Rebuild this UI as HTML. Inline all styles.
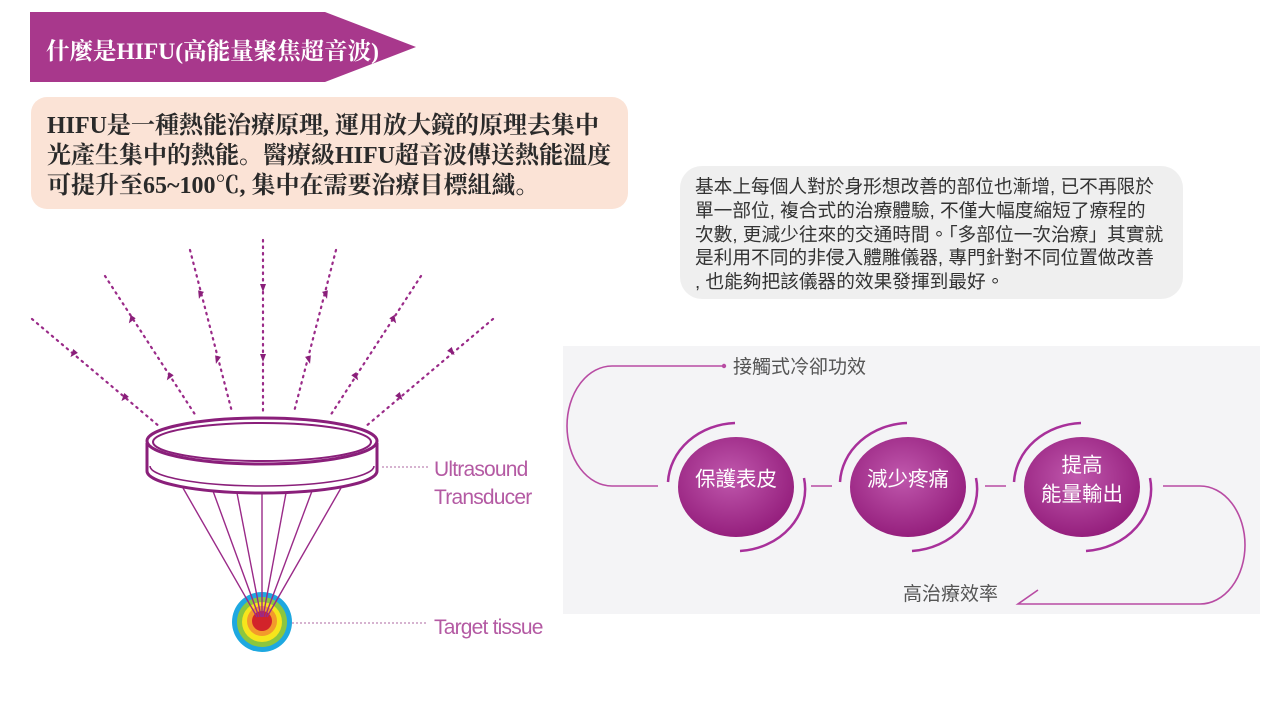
<!DOCTYPE html>
<html><head><meta charset="utf-8"><style>
body{margin:0;width:1280px;height:720px;background:#fff;position:relative;overflow:hidden;font-family:"Liberation Serif","Noto Serif CJK SC","Noto Sans CJK TC",serif}
.title{position:absolute;left:30px;top:12px;width:386px;height:70px;background:#a8388c;clip-path:polygon(0 0,295px 0,386px 35px,295px 70px,0 70px)}
.title span{position:absolute;left:16px;top:20px;color:#fff;font-size:23.5px;font-weight:bold;white-space:nowrap}
.peach{position:absolute;left:31px;top:97px;width:597px;height:112px;background:#fbe3d6;border-radius:16px}
.peach div{position:absolute;left:16px;top:14px;font-size:24px;font-weight:bold;line-height:30px;color:#2a2a2a;white-space:nowrap}
.gray{position:absolute;left:680px;top:166px;width:503px;height:133px;background:#efefef;border-radius:22px}
.gray div{position:absolute;left:15px;top:9px;font-family:"Liberation Sans","Noto Sans CJK TC",sans-serif;font-size:18.7px;line-height:23.8px;color:#333;white-space:nowrap}
svg{position:absolute;left:0;top:0}
</style></head><body>
<div class="title"><span>什麼是HIFU(高能量聚焦超音波)</span></div>
<div class="peach"><div>HIFU是一種熱能治療原理, 運用放大鏡的原理去集中<br>光產生集中的熱能。醫療級HIFU超音波傳送熱能溫度<br>可提升至65~100℃, 集中在需要治療目標組織。</div></div>
<div class="gray"><div>基本上每個人對於身形想改善的部位也漸增, 已不再限於<br>單一部位, 複合式的治療體驗, 不僅大幅度縮短了療程的<br>次數, 更減少往來的交通時間。「多部位一次治療」其實就<br>是利用不同的非侵入體雕儀器, 專門針對不同位置做改善<br>, 也能夠把該儀器的效果發揮到最好。</div></div>
<svg width="1280" height="720" viewBox="0 0 1280 720">
<defs>
<radialGradient id="cg" cx="45%" cy="40%" r="60%"><stop offset="0" stop-color="#c058ad"/><stop offset="1" stop-color="#951f7d"/></radialGradient>
</defs>
<g stroke="#9a2a88" stroke-width="2.2" stroke-dasharray="1.5 5" stroke-linecap="round" fill="none">
<line x1="32" y1="319" x2="160" y2="427"/>
<line x1="105" y1="276" x2="196" y2="416"/>
<line x1="190" y1="250" x2="232" y2="412"/>
<line x1="263" y1="240" x2="263" y2="412"/>
<line x1="336" y1="250" x2="294" y2="412"/>
<line x1="421" y1="276" x2="330" y2="416"/>
<line x1="493" y1="319" x2="365" y2="427"/>
</g>
<g fill="#8a1f7a">
<g transform="translate(73,354) rotate(130)"><polygon points="-4,-3 4,0 -4,3"/></g>
<g transform="translate(124,398) rotate(130)"><polygon points="-4,-3 4,0 -4,3"/></g>
<g transform="translate(131,320) rotate(123)"><polygon points="-4,-3 4,0 -4,3"/></g>
<g transform="translate(169,377) rotate(123)"><polygon points="-4,-3 4,0 -4,3"/></g>
<g transform="translate(200,295) rotate(105)"><polygon points="-4,-3 4,0 -4,3"/></g>
<g transform="translate(217,360) rotate(105)"><polygon points="-4,-3 4,0 -4,3"/></g>
<g transform="translate(263,288) rotate(90)"><polygon points="-4,-3 4,0 -4,3"/></g>
<g transform="translate(263,358) rotate(90)"><polygon points="-4,-3 4,0 -4,3"/></g>
<g transform="translate(326,295) rotate(75)"><polygon points="-4,-3 4,0 -4,3"/></g>
<g transform="translate(309,360) rotate(75)"><polygon points="-4,-3 4,0 -4,3"/></g>
<g transform="translate(394,320) rotate(57)"><polygon points="-4,-3 4,0 -4,3"/></g>
<g transform="translate(356,377) rotate(57)"><polygon points="-4,-3 4,0 -4,3"/></g>
<g transform="translate(452,352) rotate(50)"><polygon points="-4,-3 4,0 -4,3"/></g>
<g transform="translate(400,397) rotate(50)"><polygon points="-4,-3 4,0 -4,3"/></g>
</g>
<circle cx="262" cy="622" r="30" fill="#1ea8e0"/>
<circle cx="262" cy="622" r="25" fill="#8cc63e"/>
<circle cx="262" cy="622" r="20" fill="#f6e51c"/>
<circle cx="262" cy="621" r="15" fill="#f39a2b"/>
<circle cx="262" cy="621" r="10" fill="#d2232a"/>
<g stroke="#9a2a88" stroke-width="1.4">
<line x1="183" y1="488" x2="257" y2="617"/><line x1="213" y1="491" x2="259" y2="617"/><line x1="237" y1="493" x2="261" y2="617"/><line x1="262" y1="493" x2="262" y2="617"/><line x1="286" y1="493" x2="263" y2="617"/><line x1="312" y1="491" x2="265" y2="617"/><line x1="341" y1="488" x2="267" y2="617"/>
</g>
<g stroke="#8a1f7a" fill="none" stroke-width="3">
<path d="M147 443 L147 471 A115 22 0 0 0 377 471 L377 443" fill="#fff"/>
<path d="M150 466 A112 20 0 0 0 374 466" stroke-width="1.5"/>
<ellipse cx="262" cy="441" rx="115" ry="23" fill="#fff"/>
<ellipse cx="262" cy="442" rx="109" ry="19" stroke-width="2"/>
</g>
<g stroke="#c99ac0" stroke-width="1.5" stroke-dasharray="2 2"><line x1="382" y1="467" x2="428" y2="467"/><line x1="292" y1="623" x2="428" y2="623"/></g>
<g font-family="Liberation Sans, sans-serif" font-size="21" fill="#b45aa3" letter-spacing="-0.8">
<text x="434" y="476">Ultrasound</text><text x="434" y="504">Transducer</text><text x="434" y="634">Target tissue</text>
</g>
<rect x="563" y="346" width="697" height="268" fill="#f4f4f6"/>
<g stroke="#b84ba3" stroke-width="1.6" fill="none">
<path d="M724 366 L612 366 A45 60 0 0 0 612 486 L658 486"/>
<path d="M1163 486 L1200 486 A45 59 0 0 1 1200 604 L1018 604 L1038 590"/>
<line x1="811" y1="486" x2="832" y2="486"/><line x1="985" y1="486" x2="1006" y2="486"/>
</g>
<circle cx="724" cy="366" r="2.2" fill="#b84ba3"/>
<g font-family="Liberation Sans, Noto Sans CJK TC, sans-serif" font-size="19" fill="#555">
<text x="733" y="373">接觸式冷卻功效</text><text x="903" y="600">高治療效率</text>
</g>
<g fill="url(#cg)"><ellipse cx="736" cy="487" rx="58" ry="50"/><ellipse cx="908" cy="487" rx="58" ry="50"/><ellipse cx="1082" cy="487" rx="58" ry="50"/></g>
<g stroke="#a8309a" stroke-width="2.5" fill="none">
<path d="M668 482 A70 62 0 0 1 735 423"/><path d="M804 478 A70 62 0 0 1 740 551"/>
<path d="M840 482 A70 62 0 0 1 907 423"/><path d="M976 478 A70 62 0 0 1 912 551"/>
<path d="M1014 482 A70 62 0 0 1 1081 423"/><path d="M1150 478 A70 62 0 0 1 1086 551"/>
</g>
<g font-family="Liberation Sans, Noto Sans CJK TC, sans-serif" font-size="20.5" fill="#fff" text-anchor="middle">
<text x="736" y="486">保護表皮</text><text x="908" y="486">減少疼痛</text><text x="1082" y="472">提高</text><text x="1082" y="501">能量輸出</text>
</g>
</svg>
</body></html>
